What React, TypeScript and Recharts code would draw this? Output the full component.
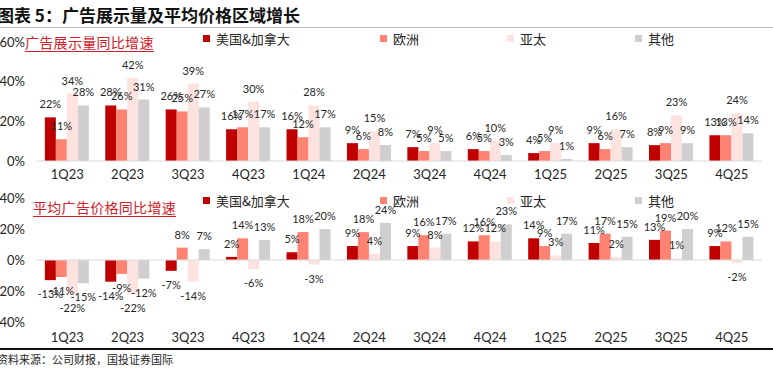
import { BarChart, Bar, XAxis, YAxis, LabelList, ReferenceLine } from "recharts";

const quarters = ["1Q23", "2Q23", "3Q23", "4Q23", "1Q24", "2Q24", "3Q24", "4Q24", "1Q25", "2Q25", "3Q25", "4Q25"];

// 广告展示量同比增速 (%)
const impUS = [22, 28, 26, 16, 16, 9, 7, 6, 4, 9, 8, 13];
const impEU = [11, 26, 25, 17, 12, 6, 5, 5, 5, 6, 9, 13];
const impAP = [34, 42, 39, 30, 28, 15, 9, 10, 9, 16, 23, 24];
const impOT = [28, 31, 27, 17, 17, 8, 5, 3, 1, 7, 9, 14];

// 平均广告价格同比增速 (%)
const priceUS = [-13, -14, -7, 2, 5, 9, 9, 12, 14, 11, 13, 9];
const priceEU = [-11, -9, 8, 14, 18, 18, 16, 16, 9, 17, 19, 12];
const priceAP = [-22, -22, -14, -6, -3, 4, 8, 12, 3, 2, 1, -2];
const priceOT = [-15, -12, 7, 13, 20, 24, 17, 23, 17, 15, 20, 15];

const seriesNames = ["美国&加拿大", "欧洲", "亚太", "其他"];
const seriesColors = ["#C00000", "#FF8373", "#FDE3E0", "#D0CECE"];
const keys = ["us", "eu", "ap", "ot"];

const topTicks = [0, 20, 40, 60];
const bottomTicks = [-40, -20, 0, 20, 40];

const topData = quarters.map((q, i) => ({ q, us: impUS[i], eu: impEU[i], ap: impAP[i], ot: impOT[i] }));
const bottomData = quarters.map((q, i) => ({ q, us: priceUS[i], eu: priceEU[i], ap: priceAP[i], ot: priceOT[i] }));

const numFont = "Lato, 'Liberation Sans', sans-serif";
const cjkFont = "'Noto Sans CJK SC', sans-serif";

const renderLabel = (props: any) => {
  const { x, y, width, height, value } = props;
  const top = Math.min(y, y + height);
  const bottom = Math.max(y, y + height);
  const cx = x + width / 2;
  return (
    <text
      x={cx}
      y={value >= 0 ? top - 9 : bottom + 18}
      textAnchor="middle"
      fontSize={11}
      fontFamily={numFont}
      fill="#262626"
    >
      {`${value}%`}
    </text>
  );
};

function Legend({ top }: { top: number }) {
  const xs = [203, 380, 507, 635];
  return (
    <>
      {seriesNames.map((n, i) => (
        <div
          key={n}
          style={{ position: "absolute", left: xs[i], top: top - 9, height: 18, display: "flex", alignItems: "center", fontFamily: cjkFont, fontSize: 13, color: "#262626", whiteSpace: "nowrap" }}
        >
          <span style={{ display: "inline-block", width: 7, height: 7, background: seriesColors[i], marginRight: 6 }} />
          {n}
        </div>
      ))}
    </>
  );
}

function PanelTitle({ text, left, top }: { text: string; left: number; top: number }) {
  return (
    <div
      style={{ position: "absolute", left, top, fontFamily: cjkFont, fontSize: 14, lineHeight: "18px", color: "#D0202A", textDecoration: "underline", textUnderlineOffset: 3, letterSpacing: 0.3, whiteSpace: "nowrap" }}
    >
      {text}
    </div>
  );
}

function Bars() {
  return keys.map((k, i) => (
    <Bar key={k} dataKey={k} name={seriesNames[i]} fill={seriesColors[i]} isAnimationActive={false}>
      <LabelList dataKey={k} content={renderLabel} />
    </Bar>
  ));
}

const tickStyle = { fill: "#262626", fontSize: 13, fontFamily: numFont };

export default function App() {
  return (
    <div style={{ position: "absolute", left: 0, top: 0, width: 773, height: 382, background: "#fff", overflow: "hidden" }}>
      <div style={{ position: "absolute", left: -3, top: 4, fontFamily: cjkFont, fontWeight: 700, fontSize: 17, lineHeight: "22px", color: "#111", whiteSpace: "nowrap" }}>
        图表 5：广告展示量及平均价格区域增长
      </div>
      <div style={{ position: "absolute", left: 0, top: 27, width: 773, height: 1, background: "#BFBFBF" }} />

      <div style={{ position: "absolute", left: 0, top: 30 }}>
        <BarChart width={773} height={160} data={topData} margin={{ top: 12, right: 11, bottom: 0, left: 0 }} barCategoryGap="13%" barGap={0}>
          <XAxis dataKey="q" height={29} tickLine={false} tickSize={0} tickMargin={9} axisLine={{ stroke: "#D9D9D9" }} tick={tickStyle} interval={0} />
          <YAxis width={37} domain={[0, 60]} ticks={topTicks} tickLine={false} tickSize={0} tickMargin={12} axisLine={false} tick={tickStyle} tickFormatter={(v: number) => `${v}%`} />
          {Bars()}
        </BarChart>
      </div>

      <div style={{ position: "absolute", left: 0, top: 186 }}>
        <BarChart width={773} height={160} data={bottomData} margin={{ top: 12, right: 11, bottom: 0, left: 0 }} barCategoryGap="13%" barGap={0}>
          <XAxis dataKey="q" height={24} tickLine={false} tickSize={0} tickMargin={11} axisLine={false} tick={tickStyle} interval={0} />
          <YAxis width={37} domain={[-40, 40]} ticks={bottomTicks} tickLine={false} tickSize={0} tickMargin={12} axisLine={false} tick={tickStyle} tickFormatter={(v: number) => `${v}%`} />
          <ReferenceLine y={0} stroke="#D9D9D9" />
          {Bars()}
        </BarChart>
      </div>

      <PanelTitle text="广告展示量同比增速" left={25} top={33} />
      <PanelTitle text="平均广告价格同比增速" left={33} top={198} />
      <Legend top={38} />
      <Legend top={200} />

      <div style={{ position: "absolute", left: 0, top: 348, width: 773, height: 2, background: "#111" }} />
      <div style={{ position: "absolute", left: -3, top: 351, fontFamily: cjkFont, fontSize: 11, lineHeight: "16px", color: "#262626", whiteSpace: "nowrap" }}>
        资料来源：公司财报，国投证券国际
      </div>
    </div>
  );
}
